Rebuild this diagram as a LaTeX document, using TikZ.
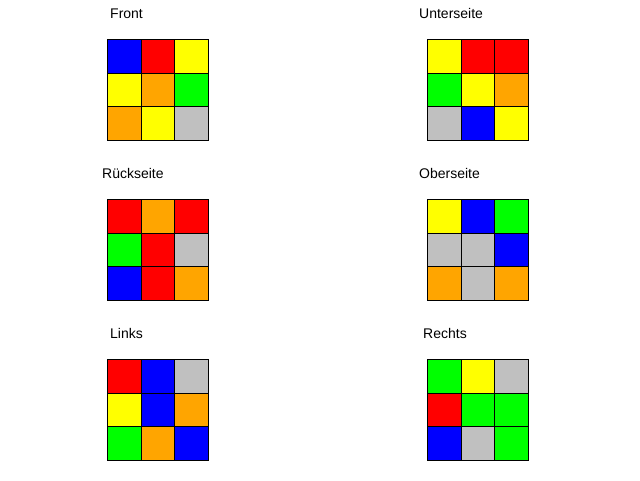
\documentclass[tikz,border=0pt]{standalone}
\usepackage{fontspec}
\setmainfont{Liberation Sans}
\definecolor{cubeblue}{RGB}{0,0,255}
\definecolor{cubered}{RGB}{255,0,0}
\definecolor{cubeyellow}{RGB}{255,255,0}
\definecolor{cubeorange}{RGB}{255,165,0}
\definecolor{cubegreen}{RGB}{0,255,0}
\definecolor{cubegray}{RGB}{192,192,192}
\tikzset{
  cell/.style={draw, line width=1pt, minimum size=33.67pt, inner sep=0pt, anchor=north west},
  facelabel/.style={anchor=base west, inner sep=0pt, font=\fontsize{14}{16}\selectfont}
}
% face: name, x, y, colours row by row
\newcommand{\cubeface}[4]{%
  \foreach \c [count=\i from 0] in {#4} {
    \pgfmathtruncatemacro\row{int(\i/3)}
    \pgfmathtruncatemacro\col{mod(\i,3)}
    \node[cell, fill=cube\c] (#1-\i) at ({#2+\col*33.67},{#3+\row*33.67}) {};
  }%
}
\begin{document}
\begin{tikzpicture}[x=1pt, y=-1pt]
  \useasboundingbox (0,0) rectangle (640,480);

  \node[facelabel] (front) at (110,18) {Front};
  \node[facelabel] (unten) at (419,18) {Unterseite};
  \node[facelabel] (hinten) at (102,178) {Rückseite};
  \node[facelabel] (oben) at (419,178) {Oberseite};
  \node[facelabel] (links) at (110,338) {Links};
  \node[facelabel] (rechts) at (423,338) {Rechts};

  \cubeface{F}{107}{39}{blue,red,yellow,yellow,orange,green,orange,yellow,gray}
  \cubeface{U}{427}{39}{yellow,red,red,green,yellow,orange,gray,blue,yellow}
  \cubeface{B}{107}{199}{red,orange,red,green,red,gray,blue,red,orange}
  \cubeface{O}{427}{199}{yellow,blue,green,gray,gray,blue,orange,gray,orange}
  \cubeface{L}{107}{359}{red,blue,gray,yellow,blue,orange,green,orange,blue}
  \cubeface{R}{427}{359}{green,yellow,gray,red,green,green,blue,gray,green}
\end{tikzpicture}
\end{document}
